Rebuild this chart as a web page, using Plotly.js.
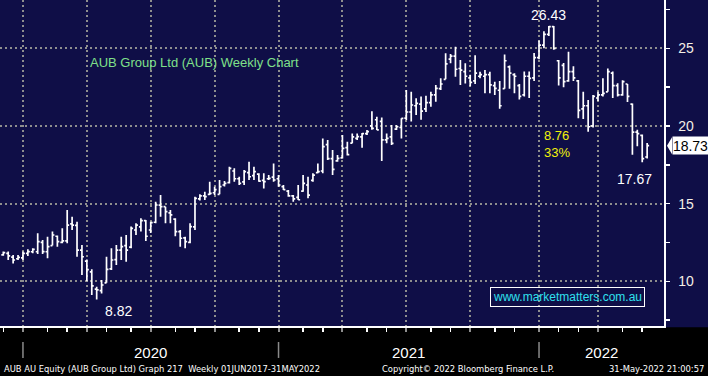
<!DOCTYPE html>
<html>
<head>
<meta charset="utf-8">
<script src="https://cdn.plot.ly/plotly-3.0.1.min.js"></script>
<style>
  html, body { margin: 0; padding: 0; background: #0f0e47; }
  #chart { width: 708px; height: 376px; }
</style>
</head>
<body>
<div id="chart"></div>
<script>
// Weekly bars (week ending Fridays), first bar 6 Dec 2019
const firstWeek = '2019-12-06';
const openPx = [11.7,11.8,11.55,11.45,11.5,11.8,11.9,11.9,12.5,11.9,
  12.3,12.9,12.5,12.6,13.7,13.6,12.0,11.3,10.6,9.5,
  9.4,9.9,10.8,11.4,12.0,12.3,12.2,13.3,13.5,13.9,
  13.3,13.8,14.9,14.8,14.4,14.0,13.2,12.8,12.5,13.5,
  15.3,15.5,15.6,15.7,15.6,16.2,16.35,17.1,16.6,16.4,
  17.0,16.8,16.9,16.5,16.6,16.7,16.6,16.1,15.8,15.5,
  15.4,15.8,16.2,16.5,17.0,17.1,18.8,17.9,17.75,17.95,
  18.6,18.9,19.2,19.3,19.5,20.0,20.4,20.3,19.1,19.3,
  19.8,19.9,20.5,20.9,21.3,21.4,21.1,21.5,22.0,22.4,
  23.0,24.3,24.5,23.7,23.5,23.1,22.9,23.2,23.2,23.3,
  22.6,22.3,22.4,23.8,23.3,22.6,22.0,23.2,23.1,24.4,
  25.2,25.9,26.4,24.2,23.9,22.9,23.5,22.9,21.1,21.3,
  20.0,21.8,22.0,22.2,23.4,22.6,22.0,22.7,21.4,19.6,
  19.4,18.0];
const highPx = [11.91,11.91,11.69,11.69,11.91,12.06,12.12,13.09,12.66,12.87,
  13.2,12.95,13.41,14.59,14.16,13.84,12.34,11.4,10.77,9.65,
  10.08,11.58,12.12,12.34,12.87,12.98,13.52,13.73,14.05,13.95,
  13.84,15.12,15.55,14.8,14.59,14.05,13.3,12.87,13.73,15.45,
  15.6,15.77,16.41,16.09,16.52,16.45,17.38,17.27,16.73,17.16,
  17.7,17.38,16.95,16.95,16.84,17.59,16.84,16.2,15.87,15.55,
  16.2,16.84,16.73,16.95,17.59,19.2,19.09,18.45,18.13,19.42,
  18.99,19.52,19.52,19.55,19.74,20.95,20.6,20.55,19.52,20.06,
  20.06,20.49,22.31,22.21,21.78,21.9,21.95,22.21,22.64,23.07,
  24.68,24.63,25.1,24.25,24.03,23.3,24.55,23.49,23.6,23.49,
  22.85,22.9,24.6,23.9,23.4,22.7,23.5,23.5,24.7,25.5,
  26.1,26.43,26.43,24.25,24.05,24.78,23.85,22.96,22.2,21.67,
  21.99,22.2,23.07,23.7,23.5,22.75,22.95,22.7,21.45,19.75,
  19.45,18.9];
const lowPx = [11.65,11.37,11.15,11.37,11.37,11.63,11.8,11.76,11.76,11.48,
  12.3,12.23,12.44,12.44,13.3,11.58,10.4,10.0,9.12,8.82,
  9.22,9.9,10.73,11.05,11.37,11.26,12.12,12.98,13.2,12.6,
  13.1,13.73,14.16,13.73,13.73,12.9,12.23,12.12,12.44,13.3,
  15.2,15.23,15.55,15.55,15.6,16.1,16.3,16.41,16.2,16.2,
  16.52,16.52,16.41,15.98,16.52,16.41,16.09,15.87,15.45,15.12,
  15.23,15.77,15.34,16.41,16.95,16.95,17.81,16.84,17.7,17.91,
  18.1,18.88,19.09,18.6,19.42,19.75,19.74,17.75,18.88,18.77,
  19.74,19.2,20.38,20.28,20.7,20.4,20.9,21.24,21.56,22.31,
  23.0,24.03,23.17,22.64,22.74,22.55,22.7,23.07,22.1,22.1,
  21.99,21.1,22.4,22.4,22.1,21.7,21.9,21.8,22.9,24.3,
  25.0,25.8,24.9,22.6,22.5,22.85,22.9,20.5,20.45,19.63,
  19.9,21.6,21.9,22.2,21.8,21.9,21.95,21.55,18.15,18.7,
  17.67,17.9];
const closePx = [11.85,11.63,11.37,11.54,11.8,11.91,12.06,12.55,11.91,12.23,
  12.98,12.55,12.6,13.62,13.62,12.01,11.58,10.75,9.7,9.44,
  9.76,10.77,11.37,12.01,12.23,12.01,13.41,13.62,13.9,12.9,
  13.77,14.91,14.8,14.48,14.27,13.2,12.77,12.55,13.52,15.34,
  15.5,15.45,15.66,15.9,16.09,16.3,17.27,16.6,16.3,17.06,
  16.73,17.06,16.45,16.41,16.63,16.52,16.2,15.9,15.5,15.3,
  15.25,16.3,15.55,16.84,17.06,18.67,17.9,17.2,17.91,18.56,
  18.15,19.3,19.31,19.5,19.63,19.85,19.75,19.1,19.2,18.88,
  19.95,20.49,20.9,21.35,21.45,20.95,21.5,22.0,22.42,22.7,
  24.0,24.5,23.65,23.6,23.2,22.8,23.4,23.3,23.3,22.64,
  22.42,21.3,24.2,23.4,23.2,21.9,23.2,23.07,24.4,25.2,
  25.9,26.4,25.0,23.1,22.85,23.5,23.1,21.0,21.3,19.95,
  21.9,22.0,22.1,23.5,22.6,22.0,22.85,21.9,19.6,19.5,
  17.9,18.73];
const yTickVals = [10, 15, 20, 25];
const titleText = 'AUB Group Ltd (AUB) Weekly Chart';
const footerLeft = 'AUB AU Equity (AUB Group Ltd) Graph 217  Weekly 01JUN2017-31MAY2022';
const footerMid = 'Copyright\u00a9 2022 Bloomberg Finance L.P.';
const footerRight = '31-May-2022 21:00:57';
const siteText = 'www.marketmatters.com.au';

// ---- derived ----
const n = closePx.length;
const idx = closePx.map((_, i) => i);
const t0 = Date.parse(firstWeek + 'T00:00:00Z');
const dates = idx.map(i => new Date(t0 + i * 7 * 864e5));
const monthIdx = [], quarterIdx = [], yearIdx = [];
dates.forEach((d, i) => {
  const prev = i > 0 ? dates[i - 1] : null;
  if (!prev || prev.getUTCMonth() !== d.getUTCMonth()) {
    monthIdx.push(i);
    if (prev && d.getUTCMonth() % 3 === 0) quarterIdx.push(i);
  }
  if (prev && prev.getUTCFullYear() !== d.getUTCFullYear()) yearIdx.push(i);
});

const xRange = [-0.671, 134.43];
const yRange = [7.12, 28.11];

const maxHigh = Math.max(...highPx);
const iMax = highPx.indexOf(maxHigh);
const minLow = Math.min(...lowPx);
const iMin = lowPx.indexOf(minLow);
const recentLows = lowPx.slice(iMax);
const recentLow = Math.min(...recentLows);
const iRecent = iMax + recentLows.indexOf(recentLow);
const drop = maxHigh - recentLow;
const dropPct = Math.round(drop / maxHigh * 100);
const last = closePx[n - 1];

const FONT = 'Liberation Sans, Arial, sans-serif';
const NARROW = 'Liberation Sans Narrow, DejaVu Sans Condensed, sans-serif';
const NAVY = '#0f0e47';
const GRID = '#8e8e8e';

const ohlc = {
  type: 'ohlc', x: idx, open: openPx, high: highPx, low: lowPx, close: closePx,
  increasing: { line: { color: '#ffffff', width: 1.7 } },
  decreasing: { line: { color: '#ffffff', width: 1.7 } },
  tickwidth: 0.4, hoverinfo: 'none', showlegend: false
};
const arrows = {
  type: 'scatter', mode: 'markers',
  x: yTickVals.map(() => xRange[1] + 0.95), y: yTickVals,
  marker: { symbol: 'triangle-right', size: 8, color: '#ffffff' },
  cliponaxis: false, hoverinfo: 'skip', showlegend: false
};

const shapes = [
  { type: 'rect', xref: 'paper', yref: 'paper', x0: -0.02, x1: 1.1, y0: -0.2, y1: -0.004,
    fillcolor: '#000000', line: { width: 0 }, layer: 'below' }
];
yearIdx.forEach(i => shapes.push({
  type: 'line', xref: 'x', yref: 'paper', x0: i, x1: i, y0: -0.049, y1: -0.098,
  line: { color: '#8a8a8a', width: 1.5 }
}));
const h = 0.55;
shapes.push({
  type: 'path', xref: 'paper', yref: 'y',
  path: `M1.0045,${last} L1.0121,${last + h} L1.0121,${last - h} Z`,
  fillcolor: '#ffffff', line: { width: 0 }
});

const annotations = [
  { xref: 'paper', yref: 'paper', x: 88 / 664, y: 1 - 62 / 326, xanchor: 'left', yanchor: 'middle',
    text: titleText, showarrow: false, font: { family: FONT, size: 13, color: '#7fe08a' } },
  { xref: 'x', yref: 'y', x: iMax, y: maxHigh, xanchor: 'center', yanchor: 'bottom', yshift: 1,
    text: maxHigh.toFixed(2), showarrow: false, font: { family: FONT, size: 14, color: '#ffffff' } },
  { xref: 'x', yref: 'y', x: iMin, y: minLow, xanchor: 'center', yanchor: 'top', xshift: 22, yshift: -1,
    text: minLow.toFixed(2), showarrow: false, font: { family: FONT, size: 14, color: '#ffffff' } },
  { xref: 'x', yref: 'y', x: iRecent, y: recentLow, xanchor: 'center', yanchor: 'top', xshift: -8, yshift: -7,
    text: recentLow.toFixed(2), showarrow: false, font: { family: FONT, size: 14, color: '#ffffff' } },
  { xref: 'x', yref: 'y', x: iMax, y: 18.87, xanchor: 'left', yanchor: 'middle', xshift: -7, align: 'left',
    text: drop.toFixed(2) + '<br>' + dropPct + '%', showarrow: false,
    font: { family: FONT, size: 13, color: '#f2f20a' } },
  { xref: 'paper', yref: 'paper', x: 567.5 / 664, y: 1 - 296.5 / 326, xanchor: 'center', yanchor: 'middle',
    text: siteText, showarrow: false, bordercolor: '#ffffff', borderwidth: 1, borderpad: 2,
    font: { family: FONT, size: 12, color: '#2fe0ee' } },
  { xref: 'paper', yref: 'y', x: 671.5 / 664, y: last, xanchor: 'left', yanchor: 'middle',
    text: last.toFixed(2), showarrow: false, bgcolor: '#ffffff', width: 35, height: 17, borderpad: 0,
    font: { family: FONT, size: 14, color: '#000000' } },
  { xref: 'paper', yref: 'paper', x: 2 / 664, y: -(369 - 326) / 326, xanchor: 'left', yanchor: 'middle',
    text: footerLeft, showarrow: false, font: { family: NARROW, size: 9.3, color: '#ffffff' } },
  { xref: 'paper', yref: 'paper', x: 380 / 664, y: -(369 - 326) / 326, xanchor: 'left', yanchor: 'middle',
    text: footerMid, showarrow: false, font: { family: NARROW, size: 9.3, color: '#ffffff' } },
  { xref: 'paper', yref: 'paper', x: 706 / 664, y: -(369 - 326) / 326, xanchor: 'right', yanchor: 'middle',
    text: footerRight, showarrow: false, font: { family: NARROW, size: 9.3, color: '#ffffff' } }
];
yearIdx.forEach((i, k) => {
  const next = k + 1 < yearIdx.length ? yearIdx[k + 1] : xRange[1];
  annotations.push({
    xref: 'x', yref: 'paper', x: (i + next) / 2, y: -(352 - 326) / 326, xanchor: 'center', yanchor: 'middle',
    text: String(dates[i].getUTCFullYear()), showarrow: false,
    font: { family: FONT, size: 15, color: '#ffffff' }
  });
});

const layout = {
  width: 708, height: 376,
  margin: { l: 0, r: 44, t: 0, b: 50, pad: 0 },
  paper_bgcolor: NAVY, plot_bgcolor: NAVY,
  showlegend: false,
  xaxis: {
    type: 'linear', range: xRange, rangeslider: { visible: false }, fixedrange: true,
    tickmode: 'array', tickvals: quarterIdx, showticklabels: false,
    showgrid: true, gridcolor: GRID, gridwidth: 2, griddash: '2px,3px',
    ticks: 'outside', ticklen: 4, tickwidth: 2, tickcolor: GRID,
    showline: true, linecolor: '#ffffff', linewidth: 1.5, zeroline: false,
    minor: { tickmode: 'array', tickvals: monthIdx, ticks: 'outside', ticklen: 4, tickwidth: 1.5,
             tickcolor: '#ffffff', showgrid: false }
  },
  yaxis: {
    side: 'right', range: yRange, fixedrange: true,
    tickmode: 'array', tickvals: yTickVals, ticks: '', ticklabelstandoff: 10,
    tickfont: { family: FONT, size: 14, color: '#f4efe6' },
    showgrid: true, gridcolor: GRID, gridwidth: 2, griddash: '2px,3px',
    showline: true, linecolor: '#ffffff', linewidth: 1.5, zeroline: false,
    minor: { tickmode: 'linear', tick0: 0, dtick: 2.5, ticks: 'outside', ticklen: 4, tickwidth: 1.5,
             tickcolor: '#ffffff', showgrid: false }
  },
  shapes: shapes,
  annotations: annotations
};

Plotly.newPlot('chart', [ohlc, arrows], layout, { displayModeBar: false, staticPlot: true });
</script>
</body>
</html>
